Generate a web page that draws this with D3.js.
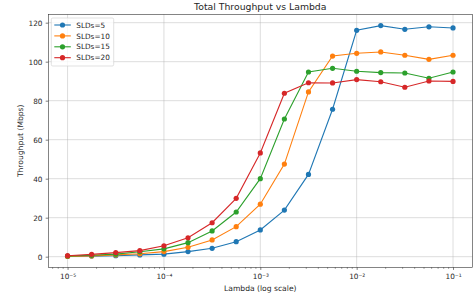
<!DOCTYPE html>
<html>
<head>
<meta charset="utf-8">
<script src="https://cdn.jsdelivr.net/npm/d3@7"></script>
<style>
  body { margin: 0; background: #fff; }
  text { font-family: "DejaVu Sans", sans-serif; fill: #262626; }
</style>
</head>
<body>
<div id="chart"></div>
<script>
// lambda values: 17 points, 0.25 decade apart, 1e-5 .. 1e-1
var lambdas = [1e-5, 1.778e-5, 3.162e-5, 5.623e-5, 1e-4, 1.778e-4, 3.162e-4, 5.623e-4,
               1e-3, 1.778e-3, 3.162e-3, 5.623e-3, 1e-2, 1.778e-2, 3.162e-2, 5.623e-2, 1e-1];
var slds5  = [0.2, 0.3, 0.5, 0.9, 1.3, 2.6, 4.3, 7.7, 13.7, 23.9, 42.2, 75.6, 116.1, 118.5, 116.6, 117.9, 117.3];
var slds10 = [0.1, 0.4, 0.9, 1.5, 2.6, 4.8, 8.6, 15.4, 26.9, 47.5, 84.5, 102.9, 104.3, 105.0, 103.3, 101.2, 103.3];
var slds15 = [0.3, 0.7, 1.3, 2.5, 4.0, 7.2, 13.2, 22.9, 40.0, 70.6, 94.7, 96.6, 95.1, 94.4, 94.2, 91.5, 94.7];
var slds20 = [0.5, 1.2, 2.1, 3.1, 5.6, 9.7, 17.4, 29.9, 53.2, 83.8, 89.2, 89.1, 90.8, 89.7, 86.9, 90.1, 89.9];
var seriesNames = ["SLDs=5", "SLDs=10", "SLDs=15", "SLDs=20"];
var seriesColors = ["#1f77b4", "#ff7f0e", "#2ca02c", "#d62728"];
var yTicks = [0, 20, 40, 60, 80, 100, 120];
var xTicks = [1e-5, 1e-4, 1e-3, 1e-2, 1e-1];

var width = 474, height = 305;
var margin = {left: 48.3, right: 1.7, top: 14.3, bottom: 37.7};

var svg = d3.select("#chart").append("svg")
    .attr("width", width)
    .attr("height", height);

var x = d3.scaleLog()
    .domain([Math.pow(10, -5.2), Math.pow(10, -0.8)])
    .range([margin.left, width - margin.right]);
var y = d3.scaleLinear()
    .domain([-5.45, 124.3])
    .range([height - margin.bottom, margin.top]);

// grid
var grid = svg.append("g");
grid.selectAll(".gx").data(xTicks).enter().append("line")
    .attr("x1", function (d) { return x(d); })
    .attr("x2", function (d) { return x(d); })
    .attr("y1", margin.top).attr("y2", height - margin.bottom)
    .attr("stroke", "#b0b0b0").attr("stroke-opacity", 0.55).attr("stroke-width", 0.8);
grid.selectAll(".gy").data(yTicks).enter().append("line")
    .attr("y1", function (d) { return y(d); })
    .attr("y2", function (d) { return y(d); })
    .attr("x1", margin.left).attr("x2", width - margin.right)
    .attr("stroke", "#b0b0b0").attr("stroke-opacity", 0.55).attr("stroke-width", 0.8);

// axes
var sup = {"-5": "\u207b\u2075", "-4": "\u207b\u2074", "-3": "\u207b\u00b3", "-2": "\u207b\u00b2", "-1": "\u207b\u00b9"};
var xAxis = svg.append("g")
    .attr("transform", "translate(0," + (height - margin.bottom) + ")")
    .call(d3.axisBottom(x).tickValues(xTicks).tickSize(2.6).tickPadding(3.6)
        .tickFormat(function (d) { return "10" + sup[Math.round(Math.log10(d))]; }));
// minor ticks
var minor = [];
for (var e = -6; e <= -1; e++) {
    for (var m = 2; m <= 9; m++) {
        var v = m * Math.pow(10, e);
        if (v > x.domain()[0] && v < x.domain()[1]) minor.push(v);
    }
}
xAxis.selectAll(".minor").data(minor).enter().append("line")
    .attr("x1", function (d) { return x(d); })
    .attr("x2", function (d) { return x(d); })
    .attr("y1", 0).attr("y2", 1.5)
    .attr("stroke", "#262626").attr("stroke-width", 0.5);

var yAxis = svg.append("g")
    .attr("transform", "translate(" + margin.left + ",0)")
    .call(d3.axisLeft(y).tickValues(yTicks).tickSize(2.6).tickPadding(3.2));

[xAxis, yAxis].forEach(function (a) {
    a.select(".domain").remove();
    a.selectAll(".tick line").attr("stroke", "#262626").attr("stroke-width", 0.6);
    a.selectAll(".tick text").style("font-size", "7.3px")
        .style("font-family", "DejaVu Sans, sans-serif").attr("fill", "#262626");
});

// frame
svg.append("rect")
    .attr("x", margin.left).attr("y", margin.top)
    .attr("width", width - margin.left - margin.right)
    .attr("height", height - margin.top - margin.bottom)
    .attr("fill", "none").attr("stroke", "#333").attr("stroke-width", 0.6);

// series
var allSeries = [slds5, slds10, slds15, slds20];
var line = d3.line()
    .x(function (d, i) { return x(lambdas[i]); })
    .y(function (d) { return y(d); });

allSeries.forEach(function (vals, k) {
    var g = svg.append("g");
    g.append("path")
        .attr("d", line(vals))
        .attr("fill", "none")
        .attr("stroke", seriesColors[k])
        .attr("stroke-width", 1.1);
    g.selectAll("circle").data(vals).enter().append("circle")
        .attr("cx", function (d, i) { return x(lambdas[i]); })
        .attr("cy", function (d) { return y(d); })
        .attr("r", 2.6)
        .attr("fill", seriesColors[k]);
});

// title and labels
svg.append("text")
    .attr("x", (margin.left + width - margin.right) / 2)
    .attr("y", 9.8)
    .attr("text-anchor", "middle")
    .style("font-size", "9.3px")
    .text("Total Throughput vs Lambda");
svg.append("text")
    .attr("x", (margin.left + width - margin.right) / 2)
    .attr("y", 291)
    .attr("text-anchor", "middle")
    .style("font-size", "7.6px")
    .text("Lambda (log scale)");
svg.append("text")
    .attr("transform", "translate(23.3," + ((margin.top + height - margin.bottom) / 2) + ") rotate(-90)")
    .attr("text-anchor", "middle")
    .style("font-size", "7.6px")
    .text("Throughput (Mbps)");

// legend
var legend = svg.append("g").attr("transform", "translate(51.3,18)");
legend.append("rect")
    .attr("width", 62.4).attr("height", 48)
    .attr("rx", 1.5)
    .attr("fill", "#fff").attr("fill-opacity", 0.8)
    .attr("stroke", "#ccc").attr("stroke-width", 0.6);
seriesNames.forEach(function (name, k) {
    var row = legend.append("g").attr("transform", "translate(0," + (7 + k * 10.9) + ")");
    row.append("line").attr("x1", 3).attr("x2", 19.5)
        .attr("stroke", seriesColors[k]).attr("stroke-width", 1.1);
    row.append("circle").attr("cx", 11.2).attr("r", 2.6).attr("fill", seriesColors[k]);
    row.append("text").attr("x", 25).attr("y", 2.6)
        .style("font-size", "7.3px").text(name);
});
</script>
</body>
</html>
